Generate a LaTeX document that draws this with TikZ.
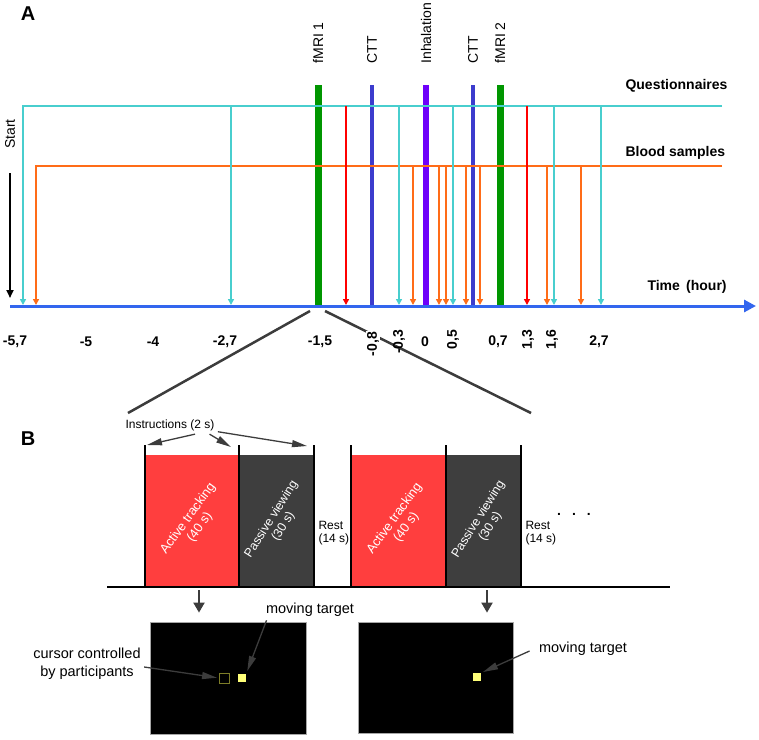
\documentclass[tikz,border=0pt]{standalone}
\usepackage{fontspec}
\setmainfont{Liberation Sans}
\usetikzlibrary{arrows.meta}
\definecolor{questcol}{RGB}{72,206,206}
\definecolor{bloodcol}{RGB}{255,108,24}
\definecolor{axiscol}{RGB}{51,102,238}
\definecolor{fmricol}{RGB}{0,150,0}
\definecolor{cttcol}{RGB}{60,60,205}
\definecolor{inhalcol}{RGB}{110,0,250}
\definecolor{activecol}{RGB}{255,62,62}
\definecolor{passivecol}{RGB}{62,62,62}
\definecolor{targetcol}{RGB}{255,255,120}
\definecolor{cursorcol}{RGB}{125,125,40}
\definecolor{calloutcol}{RGB}{60,60,60}
\newcommand\fsz[2]{\fontsize{#1}{#2}\selectfont}
\begin{document}
\begin{tikzpicture}[x=1pt,y=-1pt,
  smalltip/.style={-{Triangle[width=6pt,length=6pt]}},
  qarr/.style={questcol,line width=2.2pt,smalltip},
  barr/.style={bloodcol,line width=2.2pt,smalltip},
  rarr/.style={red,line width=2pt,smalltip},
  evlab/.style={rotate=90,anchor=west,font=\fsz{14}{16}},
  ticklab/.style={font=\bfseries\fsz{14}{16}},
  zoomline/.style={calloutcol,line width=2.5pt},
  block/.style={minimum height=132pt,inner sep=0pt},
  blocktxt/.style={white,align=center,font=\fsz{13}{14.5}},
  barline/.style={line width=2.5pt},
  callout/.style={calloutcol,line width=1.3pt,-{Triangle[length=15pt,width=7pt]}},
  downarr/.style={calloutcol,line width=2pt,-{Triangle[length=10pt,width=11pt]}},
  screen/.style={fill=black,draw=gray!70,line width=0.8pt,inner sep=0pt},
  panel/.style={font=\bfseries\fsz{20}{22}}]
\useasboundingbox (0,0) rectangle (759,739);

\node[panel] (labA) at (28,14) {A};
\foreach \x/\w/\c in {318/7/fmricol, 372/3.5/cttcol, 426/6/inhalcol, 473/3.5/cttcol, 500/7/fmricol}
  \draw[\c, line width=\w pt] (\x,85) -- (\x,306);
\foreach \x/\t in {318/fMRI 1, 372/CTT, 426/Inhalation, 473/CTT, 500/fMRI 2}
  \node[evlab] (ev\x) at (\x,67) {\t};

\draw[qarr] (722,106) -- (23,106) -- (23,305);
\draw[barr] (722,166) -- (36,166) -- (36,305);
\foreach \x in {231,399,453,554,601} \draw[qarr] (\x,106) -- (\x,305);
\foreach \x in {413,439,446,466,480,547,581} \draw[barr] (\x,166) -- (\x,305);
\foreach \x in {346,527} \draw[rarr] (\x,106) -- (\x,305);
\draw[axiscol,line width=3pt,-{Triangle[width=12pt,length=12pt]}] (10,306) -- (756,306);

\node[font=\bfseries\fsz{14}{16},anchor=west] (quest) at (622,86) {Questionnaires};
\node[font=\bfseries\fsz{14}{16},anchor=west] (blood) at (622,153) {Blood samples};
\node[font=\bfseries\fsz{14}{16},anchor=west] (time) at (644,287) {Time\,\ (hour)};
\node[rotate=90,font=\fsz{14}{16}] (start) at (10,134) {Start};
\draw[line width=2pt,-{Triangle[width=7pt,length=8pt]}] (10,173) -- (10,298);

\draw[zoomline] (310,311) -- (128,413);
\draw[zoomline] (325,311) -- (531,413);

\foreach \x/\t in {15/{-5,7}, 86/{-5}, 153/{-4}, 225/{-2,7}, 320/{-1,5}, 425/0, 498/{0,7}, 599/{2,7}}
  \node[ticklab] (tk\x) at (\x,342) {\t};
\foreach \x/\t in {399/{-0,3}, 453/{0,5}, 528/{1,3}, 552/{1,6}}
  \node[ticklab,rotate=90,anchor=east] (tk\x) at (\x,326) {\t};
\node[ticklab,rotate=90,anchor=east,fill=white,inner sep=1pt] (tk373) at (373,331) {-0,8};

\node[panel] (labB) at (28,439) {B};
\node[font=\fsz{12}{14}] (instr) at (170,425) {Instructions (2 s)};

\node[block,fill=activecol,minimum width=94pt] (act1) at (192,521) {};
\node[block,fill=passivecol,minimum width=75pt] (pas1) at (276.5,521) {};
\node[block,fill=activecol,minimum width=95pt] (act2) at (398.5,521) {};
\node[block,fill=passivecol,minimum width=75pt] (pas2) at (483.5,521) {};
\foreach \n in {1,2} {
  \node[blocktxt,rotate=54] (act\n txt) at ([xshift=2pt,yshift=-2pt]act\n) {Active tracking\\(40 s)};
  \node[blocktxt,rotate=58,font=\fsz{12.5}{14}] (pas\n txt) at ([xshift=1pt,yshift=-2pt]pas\n) {Passive viewing\\(30 s)};
}
\foreach \x in {145,239,314,351,446,521} \draw[barline] (\x,445) -- (\x,587);
\draw[line width=2pt] (107,587) -- (670,587);

\coordinate (bt1) at (147,445);
\coordinate (bt2) at (231,447);
\coordinate (bt3) at (307,446);
\draw[callout] (instr.-20) -- (bt1);
\draw[callout] (instr.-13) -- (bt2);
\draw[callout] (instr.-8) -- (bt3);

\node[font=\fsz{12}{13.5},align=left,anchor=west] (rest1) at (315,533) {Rest\\(14 s)};
\node[font=\fsz{12}{13.5},align=left,anchor=west] (rest2) at (522,533) {Rest\\(14 s)};
\node[font=\bfseries\fsz{14}{16}] (dots) at (574,514) {.\hspace{11pt}.\hspace{11pt}.};

\node[screen,minimum width=156pt,minimum height=112pt] (scr1) at (228,678) {};
\node[screen,minimum width=155pt,minimum height=111pt] (scr2) at (435.5,677.5) {};
\draw[downarr] ([xshift=7pt,yshift=-3pt]act1.south) -- ([xshift=-29pt,yshift=9pt]scr1.north);
\draw[downarr] ([xshift=3.5pt,yshift=-3pt]pas2.south) -- ([xshift=51.5pt,yshift=9pt]scr2.north);

\node[draw=cursorcol,line width=1pt,minimum size=10pt,inner sep=0pt] (cur) at (224.5,678) {};
\node[fill=targetcol,minimum size=8pt,inner sep=0pt] (tgt1) at (242,678) {};
\node[fill=targetcol,minimum size=8pt,inner sep=0pt] (tgt2) at (477,677) {};

\node[font=\fsz{14.5}{18}] (mt1) at (310,610) {moving target};
\node[font=\fsz{14.5}{18},align=center] (cc) at (87,664) {cursor controlled\\by participants};
\node[font=\fsz{14.5}{18}] (mt2) at (583,649) {moving target};
\draw[callout,shorten >=3pt] ([xshift=4pt]mt1.south west) -- (tgt1.north east);
\draw[callout,shorten >=2pt] ([yshift=-3pt]cc.east) -- (cur.west);
\draw[callout,shorten >=2pt] ([xshift=-6pt,yshift=-2pt]mt2.west) -- (tgt2.north east);
\end{tikzpicture}
\end{document}
